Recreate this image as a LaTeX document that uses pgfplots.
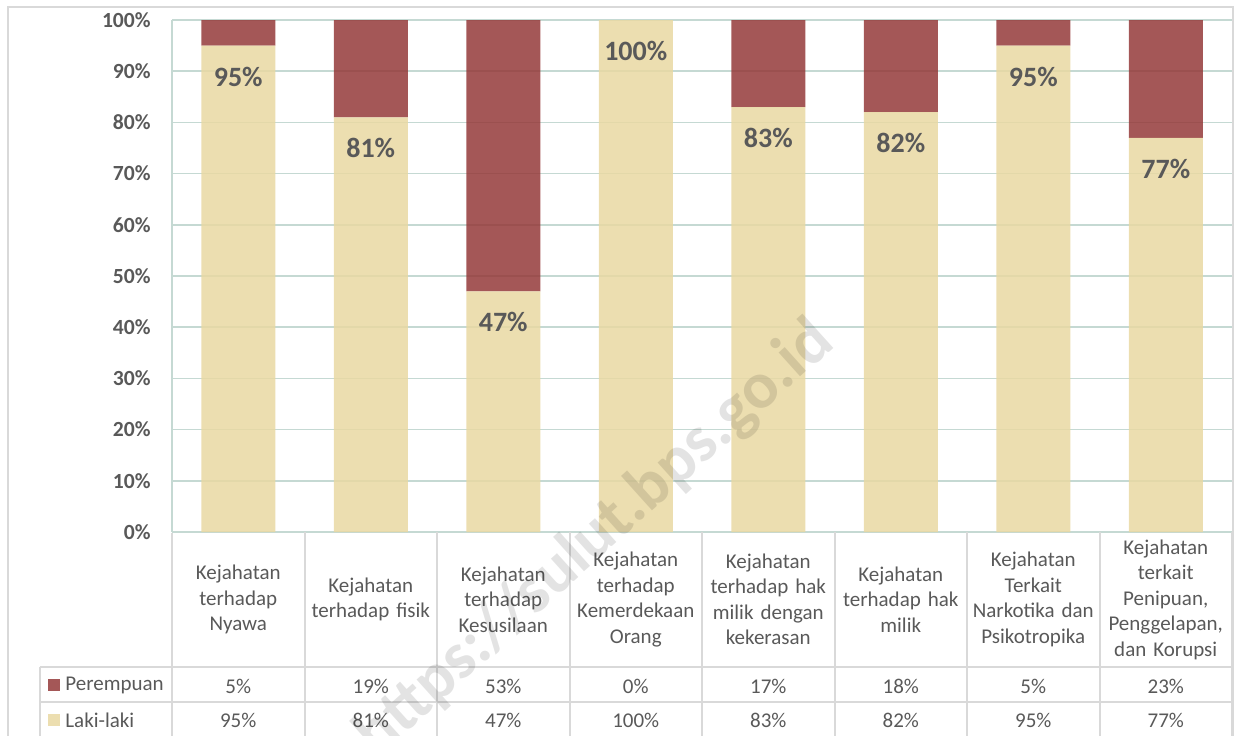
\documentclass[border=0pt]{standalone}
\usepackage{pgfplots}
\pgfplotsset{compat=1.18}
\usepackage{fontspec}
\setmainfont{Carlito}
\definecolor{perc}{RGB}{148,57,57}
\definecolor{lakc}{RGB}{233,216,162}
\definecolor{perobs}{RGB}{164,87,87}
\definecolor{lakobs}{RGB}{236,222,176}
\definecolor{gridc}{RGB}{197,217,211}
\definecolor{tblc}{RGB}{217,217,217}
\definecolor{txtc}{RGB}{89,89,89}
\begin{document}
\begin{tikzpicture}[tbl/.style={font=\fontsize{10.5}{12.6}\selectfont, text=txtc, anchor=center, inner sep=0pt}]
\path[use as bounding box] (-86pt,-101.5pt) rectangle (531pt,266pt);
\draw[tblc, line width=1pt] (-82pt,-103pt) -- (-82pt,262.5pt) -- (530.5pt,262.5pt) -- (530.5pt,-103pt);
\begin{axis}[
  at={(0pt,0pt)}, anchor=south west,
  scale only axis, width=530pt, height=256pt,
  xmin=-0.5, xmax=7.5, ymin=0, ymax=100,
  ybar stacked, bar width=37pt,
  axis x line*=bottom, axis y line*=left,
  axis line style={gridc, line width=0.75pt},
  ymajorgrids, grid style={gridc, line width=0.75pt},
  major tick length=0pt,
  ytick={0,10,...,100},
  yticklabel={\pgfmathprintnumber{\tick}\%},
  /pgf/number format/assume math mode=true,
  yticklabel style={font=\bfseries\fontsize{10.8}{12}\selectfont, text=txtc, inner sep=0pt, xshift=-10.5pt},
  xtick={0,...,7},
  xticklabels={{Kejahatan\\terhadap\\Nyawa},{Kejahatan\\terhadap fisik},{Kejahatan\\terhadap\\Kesusilaan},{Kejahatan\\terhadap\\Kemerdekaan\\Orang},{Kejahatan\\terhadap hak\\milik dengan\\kekerasan},{Kejahatan\\terhadap hak\\milik},{Kejahatan\\Terkait\\Narkotika dan\\Psikotropika},{Kejahatan\\terkait\\Penipuan,\\Penggelapan,\\dan Korupsi}},
  xticklabel style={font=\fontsize{10.5}{12.75}\selectfont, text=txtc, text width=64pt, align=center, anchor=center, yshift=-33.75pt, inner sep=0pt},
  clip=false,
]
\addplot[fill=lakc, fill opacity=0.85, draw=none,
  visualization depends on={rawy \as \ry},
  nodes near coords={\pgfmathprintnumber{\pgfplotspointmeta}\%}, point meta=rawy,
  every node near coord/.append style={font=\bfseries\fontsize{14}{16}\selectfont, text=txtc, anchor=center, yshift={\ry*1.28-15.5}, text opacity=1, fill opacity=1}]
  coordinates {(0,95) (1,81) (2,47) (3,100) (4,83) (5,82) (6,95) (7,77)};
\addplot[fill=perc, fill opacity=0.85, draw=none]
  coordinates {(0,5) (1,19) (2,53) (3,0) (4,17) (5,18) (6,5) (7,23)};
% table values
\node[tbl, yshift=-77pt] at (axis cs:0,0) {5\%};
\node[tbl, yshift=-77pt] at (axis cs:1,0) {19\%};
\node[tbl, yshift=-77pt] at (axis cs:2,0) {53\%};
\node[tbl, yshift=-77pt] at (axis cs:3,0) {0\%};
\node[tbl, yshift=-77pt] at (axis cs:4,0) {17\%};
\node[tbl, yshift=-77pt] at (axis cs:5,0) {18\%};
\node[tbl, yshift=-77pt] at (axis cs:6,0) {5\%};
\node[tbl, yshift=-77pt] at (axis cs:7,0) {23\%};
\node[tbl, yshift=-94pt] at (axis cs:0,0) {95\%};
\node[tbl, yshift=-94pt] at (axis cs:1,0) {81\%};
\node[tbl, yshift=-94pt] at (axis cs:2,0) {47\%};
\node[tbl, yshift=-94pt] at (axis cs:3,0) {100\%};
\node[tbl, yshift=-94pt] at (axis cs:4,0) {83\%};
\node[tbl, yshift=-94pt] at (axis cs:5,0) {82\%};
\node[tbl, yshift=-94pt] at (axis cs:6,0) {95\%};
\node[tbl, yshift=-94pt] at (axis cs:7,0) {77\%};
\end{axis}
% table grid
\foreach \k in {1,...,7} {\draw[tblc, line width=1pt] (\k*66.25pt,0pt) -- (\k*66.25pt,-103pt);}
\draw[tblc, line width=1pt] (0pt,-0.4pt) -- (0pt,-103pt);
\draw[tblc, line width=1pt] (530pt,0pt) -- (530pt,-103pt);
\draw[tblc, line width=1pt] (-66pt,-67.5pt) -- (530pt,-67.5pt);
\draw[tblc, line width=1pt] (-66pt,-85pt) -- (530pt,-85pt);
\draw[tblc, line width=1pt] (-66pt,-67.5pt) -- (-66pt,-103pt);
% row labels
\fill[perobs] (-62pt,-79.5pt) rectangle ++(6pt,6pt);
\fill[lakobs] (-62pt,-97pt) rectangle ++(6pt,6pt);
\node[tbl, anchor=west] at (-53.5pt,-76.5pt) {Perempuan};
\node[tbl, anchor=west] at (-53.5pt,-94pt) {Laki-laki};
% watermark
\node[rotate=42, font=\bfseries\fontsize{33}{36}\selectfont, text=black, text opacity=0.11, inner sep=0pt] at (211.5pt,-3.5pt) {https://sulut.bps.go.id};
\end{tikzpicture}
\end{document}
